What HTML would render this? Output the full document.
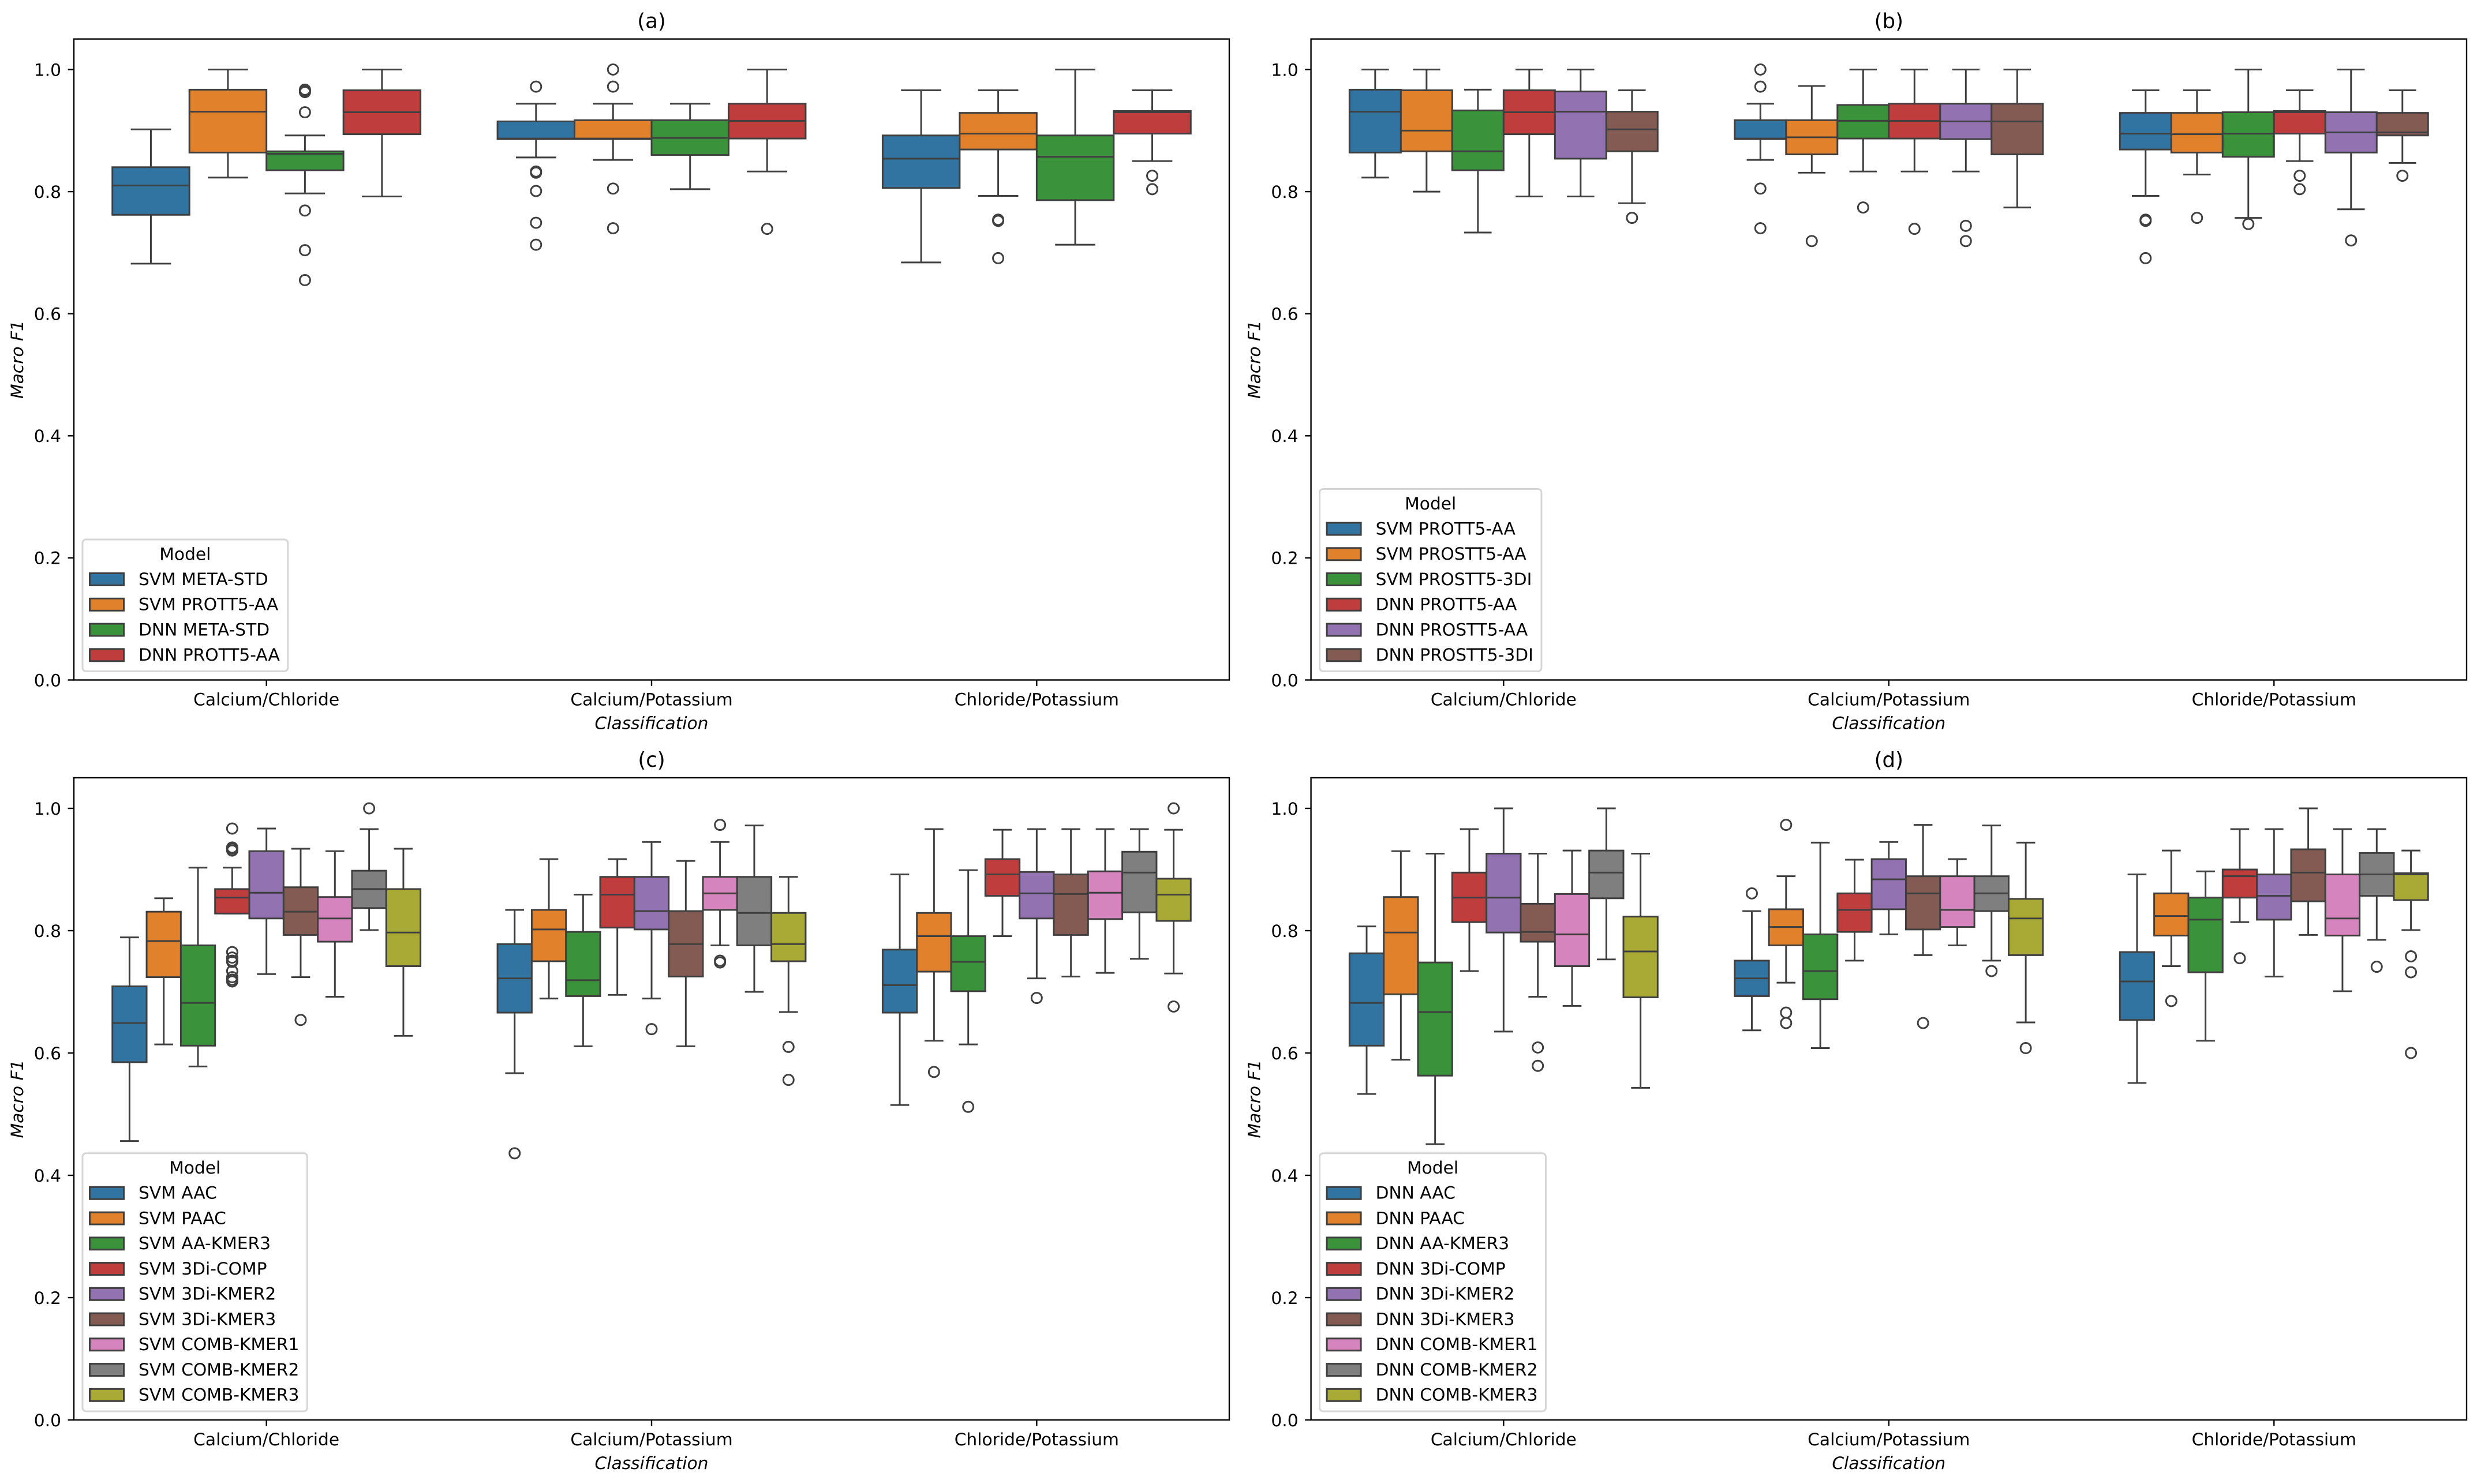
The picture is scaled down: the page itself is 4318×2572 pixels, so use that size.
<!DOCTYPE html>
<html lang="en">
<head>
<meta charset="utf-8">
<title>Macro F1 box plots by classification and model</title>
<style>
html,body{margin:0;padding:0;background:#fff;}
svg{display:block;}
text{font-family:"DejaVu Sans","Liberation Sans",sans-serif;fill:#000;}
</style>
</head>
<body>
<svg id="figure" xmlns="http://www.w3.org/2000/svg" width="4318" height="2572" viewBox="0 0 4318 2572"></svg>
<script>
const categories = ['Calcium/Chloride', 'Calcium/Potassium', 'Chloride/Potassium'];
const yTickValues = [0, 0.2, 0.4, 0.6, 0.8, 1.0];
const yTickLabels = ['0.0', '0.2', '0.4', '0.6', '0.8', '1.0'];
const palette = ['#3274a1', '#e1812c', '#3a923a', '#c03d3e', '#9372b2', '#845b53', '#d684bd', '#7f7f7f', '#a9aa35'];

/* Panel (a) — rows: category, columns: model */
const aModels = ['SVM META-STD', 'SVM PROTT5-AA', 'DNN META-STD', 'DNN PROTT5-AA'];
const aHigh = [[.902, 1, .892, 1], [.944, .944, .944, 1], [.966, .966, 1, .966]];
const aQ3 = [[.840, .967, .866, .966], [.915, .917, .917, .944], [.892, .929, .892, .932]];
const aMedian = [[.810, .931, .862, .930], [.887, .887, .888, .916], [.854, .895, .857, .930]];
const aQ1 = [[.762, .864, .835, .894], [.886, .886, .860, .887], [.806, .869, .786, .895]];
const aLow = [[.682, .823, .797, .792], [.856, .852, .804, .833], [.684, .793, .713, .850]];
const aFliers = [
  [[], [], [.967, .965, .963, .930, .769, .704, .655], []],
  [[.972, .833, .831, .801, .749, .713], [1.0, .972, .805, .740], [], [.739]],
  [[], [.754, .752, .691], [], [.826, .804]]
];

/* Panel (b) */
const bModels = ['SVM PROTT5-AA', 'SVM PROSTT5-AA', 'SVM PROSTT5-3DI', 'DNN PROTT5-AA', 'DNN PROSTT5-AA', 'DNN PROSTT5-3DI'];
const bHigh = [[1, 1, .967, 1, 1, .966], [.944, .973, 1, 1, 1, 1], [.966, .966, 1, .966, 1, .966]];
const bQ3 = [[.967, .966, .933, .966, .964, .931], [.917, .917, .942, .944, .944, .944], [.929, .929, .930, .932, .930, .929]];
const bMedian = [[.931, .900, .866, .930, .931, .902], [.887, .889, .916, .916, .915, .915], [.895, .894, .895, .930, .897, .897]];
const bQ1 = [[.864, .866, .835, .894, .854, .866], [.886, .861, .887, .887, .886, .861], [.869, .864, .857, .895, .864, .892]];
const bLow = [[.823, .800, .733, .792, .792, .781], [.852, .831, .833, .833, .833, .774], [.793, .828, .757, .850, .771, .847]];
const bFliers = [
  [[], [], [], [], [], [.757]],
  [[1.0, .972, .805, .740], [.719], [.774], [.739], [.744, .719], []],
  [[.754, .752, .691], [.757], [.747], [.826, .804], [.720], [.826]]
];

/* Panel (c) */
const cModels = ['SVM AAC', 'SVM PAAC', 'SVM AA-KMER3', 'SVM 3Di-COMP', 'SVM 3Di-KMER2', 'SVM 3Di-KMER3', 'SVM COMB-KMER1', 'SVM COMB-KMER2', 'SVM COMB-KMER3'];
const cHigh = [[.789, .853, .903, .903, .967, .934, .930, .966, .934], [.834, .917, .859, .917, .945, .914, .945, .972, .888], [.892, .966, .899, .965, .966, .966, .966, .966, .965]];
const cQ3 = [[.709, .831, .776, .868, .930, .871, .855, .898, .868], [.778, .834, .798, .888, .888, .832, .888, .888, .829], [.769, .829, .791, .917, .896, .892, .897, .929, .885]];
const cMedian = [[.649, .783, .682, .854, .862, .831, .820, .868, .797], [.722, .802, .719, .859, .832, .778, .861, .829, .778], [.711, .791, .749, .892, .861, .860, .862, .895, .859]];
const cQ1 = [[.585, .724, .612, .828, .820, .793, .782, .837, .742], [.666, .750, .693, .805, .802, .725, .834, .776, .750], [.666, .733, .701, .857, .820, .793, .819, .830, .816]];
const cLow = [[.456, .614, .578, .828, .729, .724, .692, .801, .628], [.567, .689, .611, .695, .689, .611, .776, .700, .667], [.515, .620, .614, .791, .722, .725, .731, .754, .730]];
const cFliers = [
  [[], [], [], [.967, .936, .934, .931, .765, .756, .751, .749, .734, .724, .720, .717], [], [.654], [], [1.0], []],
  [[.436], [], [], [], [.639], [], [.973, .751, .748], [], [.610, .556]],
  [[], [.569], [.512], [], [.690], [], [], [], [1.0, .676]]
];

/* Panel (d) */
const dModels = ['DNN AAC', 'DNN PAAC', 'DNN AA-KMER3', 'DNN 3Di-COMP', 'DNN 3Di-KMER2', 'DNN 3Di-KMER3', 'DNN COMB-KMER1', 'DNN COMB-KMER2', 'DNN COMB-KMER3'];
const dHigh = [[.807, .930, .926, .966, 1, .926, .931, 1, .926], [.832, .889, .944, .916, .945, .973, .917, .972, .944], [.892, .931, .897, .966, .966, 1, .966, .966, .931]];
const dQ3 = [[.763, .855, .748, .895, .926, .844, .860, .931, .823], [.751, .835, .794, .861, .917, .889, .889, .889, .852], [.765, .861, .854, .900, .892, .933, .892, .927, .894]];
const dMedian = [[.682, .797, .667, .854, .854, .798, .794, .895, .766], [.722, .806, .734, .834, .884, .861, .834, .861, .820], [.717, .824, .818, .889, .857, .895, .820, .892, .892]];
const dQ1 = [[.612, .696, .563, .814, .797, .782, .742, .853, .691], [.693, .776, .688, .798, .835, .802, .806, .832, .760], [.654, .792, .732, .854, .818, .848, .792, .857, .850]];
const dLow = [[.533, .589, .451, .734, .635, .692, .677, .753, .543], [.637, .715, .608, .751, .794, .760, .776, .751, .650], [.551, .742, .620, .814, .725, .793, .701, .785, .801]];
const dFliers = [
  [[], [], [], [], [], [.609, .579], [], [], []],
  [[.861], [.973, .666, .649], [], [], [], [.649], [], [.734], [.608]],
  [[], [.685], [], [.755], [], [], [], [.741], [.758, .732, .600]]
];

const NS = 'http://www.w3.org/2000/svg';
const svg = document.getElementById('figure');
const LINE = '#3f3f3f';
const FONT = 29.7;
const LW = 2.97;
const AXW = 2.38;

function make(parent, tag, attrs, content) {
  const el = document.createElementNS(NS, tag);
  for (const k in attrs) el.setAttribute(k, attrs[k]);
  if (content !== undefined) el.textContent = content;
  parent.appendChild(el);
  return el;
}

function drawPanel(p) {
  const g = make(svg, 'g', {});
  
  
  const W = p.right - p.left;
  const scaleY = function (v) { return p.bottom - (p.bottom - p.top) * v / 1.05; };
  const scaleX = function (c) { return p.left + W * (c + 0.5) / 3; };
  const n = p.models.length;
  const boxW = (0.8 * W / 3) / n;

  for (let c = 0; c < categories.length; c++) {
    for (let m = 0; m < n; m++) {
      const color = palette[m];
      const cx = scaleX(c) - 0.4 * W / 3 + boxW * (m + 0.5);
      const boxG = make(g, 'g', {});
      
      
      const lineAttrs = { stroke: LINE, 'stroke-width': LW, fill: 'none' };
      make(boxG, 'line', Object.assign({ x1: cx, x2: cx, y1: scaleY(p.high[c][m]), y2: scaleY(p.q3[c][m]) }, lineAttrs));
      make(boxG, 'line', Object.assign({ x1: cx, x2: cx, y1: scaleY(p.q1[c][m]), y2: scaleY(p.low[c][m]) }, lineAttrs));
      make(boxG, 'line', Object.assign({ x1: cx - boxW / 4, x2: cx + boxW / 4, y1: scaleY(p.high[c][m]), y2: scaleY(p.high[c][m]), 'stroke-linecap': 'square' }, lineAttrs));
      make(boxG, 'line', Object.assign({ x1: cx - boxW / 4, x2: cx + boxW / 4, y1: scaleY(p.low[c][m]), y2: scaleY(p.low[c][m]), 'stroke-linecap': 'square' }, lineAttrs));
      make(boxG, 'rect', { x: cx - boxW / 2, y: scaleY(p.q3[c][m]), width: boxW, height: scaleY(p.q1[c][m]) - scaleY(p.q3[c][m]), fill: color, stroke: LINE, 'stroke-width': LW });
      make(boxG, 'line', Object.assign({ x1: cx - boxW / 2, x2: cx + boxW / 2, y1: scaleY(p.median[c][m]), y2: scaleY(p.median[c][m]) }, lineAttrs));
      for (const f of p.fliers[c][m]) {
        make(boxG, 'circle', { cx: cx, cy: scaleY(f), r: 9, fill: 'none', stroke: LINE, 'stroke-width': LW });
      }
    }
  }

  /* axes frame */
  const frame = make(g, 'rect', { x: p.left, y: p.top, width: W, height: p.bottom - p.top, fill: 'none', stroke: '#000', 'stroke-width': AXW });
  
  

  /* y ticks */
  yTickValues.forEach(function (v, i) {
    const y = scaleY(v);
    const tick = make(g, 'line', { x1: p.left - 10.4, x2: p.left, y1: y, y2: y, stroke: '#000', 'stroke-width': AXW });
    
    
    const lab = make(g, 'text', { x: p.left - 22, y: y + 10.8, 'text-anchor': 'end', 'font-size': FONT }, yTickLabels[i]);
    
    
  });

  /* x ticks */
  categories.forEach(function (name, c) {
    const x = scaleX(c);
    const tick = make(g, 'line', { x1: x, x2: x, y1: p.bottom, y2: p.bottom + 10.4, stroke: '#000', 'stroke-width': AXW });
    
    
    const lab = make(g, 'text', { x: x, y: p.bottom + 44, 'text-anchor': 'middle', 'font-size': FONT }, name);
    
    
  });

  /* titles */
  const title = make(g, 'text', { x: (p.left + p.right) / 2, y: p.top - 19, 'text-anchor': 'middle', 'font-size': 35.6 }, '(' + p.letter + ')');
  
  
  const xTitle = make(g, 'text', { x: (p.left + p.right) / 2, y: p.bottom + 85, 'text-anchor': 'middle', 'font-size': FONT, 'font-style': 'italic' }, 'Classification');
  
  
  const midY = (p.top + p.bottom) / 2;
  const yTitleX = p.left - 88;
  const yTitle = make(g, 'text', { x: yTitleX, y: midY, 'text-anchor': 'middle', 'font-size': FONT, 'font-style': 'italic', transform: 'rotate(-90 ' + yTitleX + ' ' + midY + ')' }, 'Macro F1');
  
  

  /* legend */
  const legend = make(g, 'g', {});
  
  
  const legBottom = p.bottom - 15;
  const legH = 228.5 + (n - 4) * 43.75;
  const legX = p.left + 15;
  const legFrame = make(legend, 'rect', { x: legX, y: legBottom - legH, width: 10, height: legH, rx: 6, ry: 6, fill: '#fff', 'fill-opacity': 0.8, stroke: '#d6d6d6', 'stroke-width': 3 });
  
  
  let maxLen = 0;
  p.models.forEach(function (name, m) {
    const base = legBottom - 18.5 - (n - 1 - m) * 43.75;
    const swatch = make(legend, 'rect', { x: legX + 12.5, y: base - 20.2, width: 59, height: 21, fill: palette[m], stroke: LINE, 'stroke-width': LW });
    
    
    const label = make(legend, 'text', { x: legX + 97, y: base, 'font-size': FONT }, name);
    
    
    maxLen = Math.max(maxLen, label.getComputedTextLength());
  });
  const legW = 97 + maxLen + 14;
  legFrame.setAttribute('width', legW);
  const firstBase = legBottom - 18.5 - (n - 1) * 43.75;
  const legTitle = make(legend, 'text', { x: legX + legW / 2, y: firstBase - 43.5, 'text-anchor': 'middle', 'font-size': FONT }, 'Model');
  
  
}

drawPanel({ letter: 'a', left: 128, right: 2130, top: 67.6, bottom: 1178.5, models: aModels, high: aHigh, q3: aQ3, median: aMedian, q1: aQ1, low: aLow, fliers: aFliers });
drawPanel({ letter: 'b', left: 2271.6, right: 4274, top: 67.6, bottom: 1178.5, models: bModels, high: bHigh, q3: bQ3, median: bMedian, q1: bQ1, low: bLow, fliers: bFliers });
drawPanel({ letter: 'c', left: 128, right: 2130, top: 1348, bottom: 2461, models: cModels, high: cHigh, q3: cQ3, median: cMedian, q1: cQ1, low: cLow, fliers: cFliers });
drawPanel({ letter: 'd', left: 2271.6, right: 4274, top: 1348, bottom: 2461, models: dModels, high: dHigh, q3: dQ3, median: dMedian, q1: dQ1, low: dLow, fliers: dFliers });
</script>
</body>
</html>
